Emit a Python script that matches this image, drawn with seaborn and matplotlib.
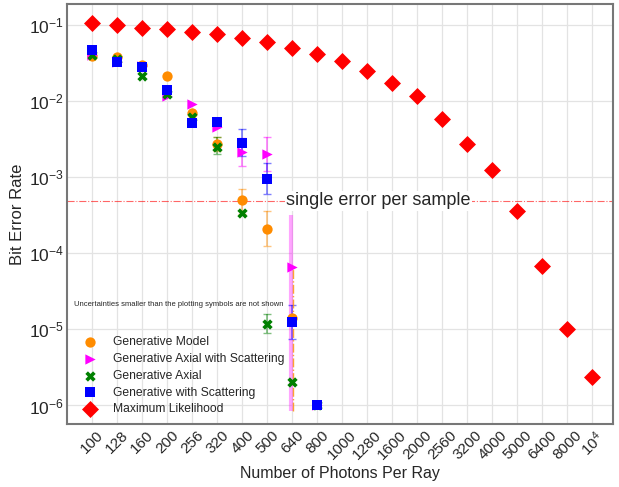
import numpy as np
import pandas as pd
import matplotlib
matplotlib.use('Agg')
import matplotlib.pyplot as plt
import seaborn as sns

sns.set_theme(style='whitegrid')
plt.rcParams['font.family'] = ['Liberation Sans', 'DejaVu Sans']
plt.rcParams['mathtext.fontset'] = 'custom'
plt.rcParams['mathtext.rm'] = 'Liberation Sans'
plt.rcParams['mathtext.it'] = 'Liberation Sans:italic'

# x categories (equally spaced on the plot)
photon_labels = ['100', '128', '160', '200', '256', '320', '400', '500', '640', '800',
                 '1000', '1280', '1600', '2000', '2560', '3200', '4000', '5000', '6400',
                 '8000', r'$10^4$']

nan = np.nan
# Generative Model
gm_ber = [0.0398, 0.0383, 0.0301, 0.0213, 0.00695, 0.00274, 5.1e-4, 2.1e-4, 1.42e-5]
gm_lo = [nan, nan, nan, nan, nan, 0.0022, 3.3e-4, 1.24e-4, 8.5e-7]
gm_hi = [nan, nan, nan, nan, nan, 0.0034, 7.1e-4, 3.6e-4, 6.5e-5]
# Generative Axial with Scattering
gas_ber = [0.0406, 0.0332, 0.0294, 0.0118, 0.0091, 0.00464, 0.00217, 0.00201, 6.67e-5, 1e-6]
gas_lo = [nan, nan, nan, nan, nan, nan, 0.0014, 0.0012, 8.5e-7, nan]
gas_hi = [nan, nan, nan, nan, nan, nan, 0.0033, 0.0034, 3.2e-4, nan]
# Generative Axial
ga_ber = [0.041, 0.036, 0.0215, 0.0125, 0.0063, 0.00253, 3.36e-4, 1.17e-5, 2.04e-6, 1e-6]
ga_lo = [nan, nan, nan, nan, 0.0057, 0.0020, nan, 9.0e-6, nan, nan]
ga_hi = [nan, nan, nan, nan, 0.0070, 0.0034, nan, 1.6e-5, nan, nan]
# Generative with Scattering
gs_ber = [0.0473, 0.0329, 0.028, 0.0141, 0.00514, 0.00535, 0.00285, 9.42e-4, 1.26e-5, 1e-6]
gs_lo = [nan, nan, nan, nan, nan, nan, 0.00191, 5.98e-4, 7.5e-6, nan]
gs_hi = [nan, nan, nan, nan, nan, nan, 0.00433, 0.00152, 2.1e-5, nan]
# Maximum Likelihood
ml_ber = [0.106, 0.1, 0.093, 0.0885, 0.081, 0.076, 0.0687, 0.0608, 0.0507, 0.0423, 0.0342,
          0.0251, 0.0176, 0.01165, 0.0059, 0.00277, 0.00124, 3.64e-4, 6.87e-5, 1.02e-5, 2.34e-6]

single_error = 1 / 2048

series = [
    ('Generative Model', gm_ber, gm_lo, gm_hi, 'o', 'darkorange', 55),
    ('Generative Axial with Scattering', gas_ber, gas_lo, gas_hi, '>', 'magenta', 55),
    ('Generative Axial', ga_ber, ga_lo, ga_hi, 'X', 'green', 55),
    ('Generative with Scattering', gs_ber, gs_lo, gs_hi, 's', 'blue', 60),
    ('Maximum Likelihood', ml_ber, None, None, 'D', 'red', 75),
]

fig = plt.figure(figsize=(6.19, 4.87), dpi=100)
ax = fig.add_axes([0.108, 0.129, 0.883, 0.863])
ax.set_yscale('log')

# error bars first, markers on top
for name, ber, lo, hi, mk, col, sz in series:
    if lo is None:
        continue
    pos = np.arange(len(ber))
    y = np.array(ber)
    lo = np.array(lo)
    hi = np.array(hi)
    ok = ~np.isnan(lo)
    wide = ok & (lo < 1e-6)   # the huge bars at 640 photons
    ok = ok & ~wide
    ax.errorbar(pos[ok], y[ok], yerr=[y[ok] - lo[ok], hi[ok] - y[ok]], fmt='none',
                ecolor=col, alpha=0.5, capsize=3, elinewidth=1.2, zorder=2)
    if wide.any():
        shift = -0.05 if col == 'magenta' else 0.04
        eb = ax.errorbar(pos[wide] + shift, y[wide], yerr=[y[wide] - lo[wide], hi[wide] - y[wide]],
                         fmt='none', ecolor=col, alpha=0.35 if col == 'magenta' else 0.8,
                         capsize=0, elinewidth=3 if col == 'magenta' else 1.0,
                         zorder=2 if col == 'magenta' else 2.5)
        if col != 'magenta':
            eb[2][0].set_linestyle('-.')

for name, ber, lo, hi, mk, col, sz in series:
    df = pd.DataFrame({'pos': np.arange(len(ber)), 'ber': ber})
    sns.scatterplot(data=df, x='pos', y='ber', marker=mk, color=col, s=sz,
                    linewidth=0, label=name, ax=ax, zorder=3)

ax.axhline(single_error, color='red', ls='-.', lw=0.8, alpha=0.6, zorder=1)
ax.text(7.75, single_error, 'single error per sample', fontsize=13, color='.15',
        va='center', ha='left', zorder=4,
        bbox=dict(facecolor='white', edgecolor='none', pad=1))
ax.text(-0.73, 2.15e-5, 'Uncertainties smaller than the plotting symbols are not shown',
        fontsize=5.5, color='.15', va='center', ha='left')

ax.set_xlim(-1.02, 20.84)
ax.set_ylim(10 ** -6.246, 10 ** -0.72)
ax.set_xticks(np.arange(len(photon_labels)))
ax.set_xticklabels(photon_labels, rotation=45, fontsize=11)
ax.tick_params(axis='x', length=0, pad=3)
ax.tick_params(axis='y', labelsize=12.5, length=0, pad=2)
ax.minorticks_off()
ax.set_xlabel('Number of Photons Per Ray', fontsize=11.5, labelpad=3)
ax.set_ylabel('Bit Error Rate', fontsize=12, labelpad=3)
ax.grid(True, color='#e3e3e3', lw=0.9)
for sp in ax.spines.values():
    sp.set_color('#777777')
    sp.set_linewidth(1.5)

ax.legend(loc='lower left', bbox_to_anchor=(0.0, -0.005), frameon=False, fontsize=8.7,
          labelspacing=0.4, handletextpad=0.9)

fig.savefig('out.png', dpi=100)
